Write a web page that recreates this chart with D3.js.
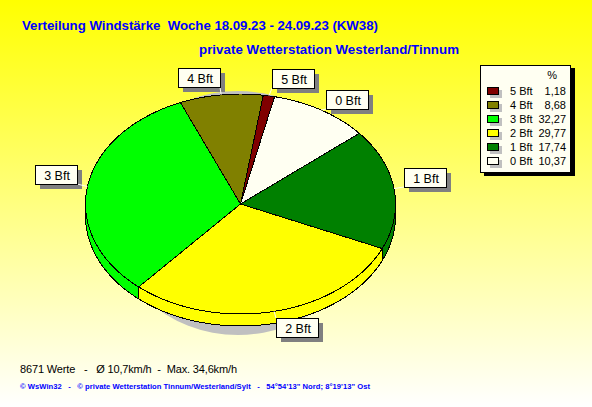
<!DOCTYPE html>
<html><head><meta charset="utf-8">
<script src="https://cdn.jsdelivr.net/npm/d3@7"></script>
<style>
html,body{margin:0;padding:0;background:#fff}
svg{display:block}
text{font-family:"Liberation Sans",Arial,sans-serif;white-space:pre}
</style></head><body>
<svg id="c" width="592" height="407"></svg>
<script>
// data, clockwise around the pie
const categories = ["0 Bft","1 Bft","2 Bft","3 Bft","4 Bft","5 Bft"];
const shares = [10.37,17.74,29.77,32.27,8.68,1.18];
const shareLabels = ["10,37","17,74","29,77","32,27","8,68","1,18"];
const colors = ["#fffff2","#008000","#ffff00","#00ff00","#808000","#800000"];
const legendOrder = [5,4,3,2,1,0];
const titleLines = ["Verteilung Windstärke  Woche 18.09.23 - 24.09.23 (KW38)","private Wetterstation Westerland/Tinnum"];
const footerStats = "8671 Werte   -   Ø 10,7km/h  -  Max. 34,6km/h";
const footerCredit = "© WsWin32   -   © private Wetterstation Tinnum/Westerland/Sylt   -   54°54'13\" Nord; 8°19'13\" Ost";
// label box offsets from the slice rim, by category
const labelOffsets = [[26,-10.5],[31.5,-11.5],[23,16.5],[-31.5,-12],[-22,-17.5],[24.5,-17.5]];

const svg = d3.select("#c");
const defs = svg.append("defs");
const g = defs.append("linearGradient").attr("id","bg").attr("x1",0).attr("x2",0).attr("y1",0).attr("y2",1);
g.append("stop").attr("offset",0).attr("stop-color","#ffff00");
g.append("stop").attr("offset",1).attr("stop-color","#ffffff");
svg.append("rect").attr("width",592).attr("height",407).attr("fill","url(#bg)");

const tx = (t,x,y,o={})=>{
  const e=svg.append("text").attr("x",x).attr("y",y)
  .attr("font-size",o.size||11).attr("font-weight",o.weight||"normal")
  .attr("fill",o.fill||"#000").attr("text-anchor",o.anchor||"start").text(t);
  if(o.len) e.attr("textLength",o.len).attr("lengthAdjust","spacing");
  return e;
};

tx(titleLines[0],22,30,{size:13.3,weight:"bold",fill:"#0000ff",len:356});
tx(titleLines[1],199,54,{size:13.3,weight:"bold",fill:"#0000ff",len:260});

// pie geometry
const x = d3.scaleLinear().domain([-1,1]).range([85.5,395.5]);
const y = d3.scaleLinear().domain([-1,1]).range([314,94]);
const depth = 12;
const start = 12.7*Math.PI/180;
const arcs = d3.pie().sort(null).startAngle(start).endAngle(start+2*Math.PI)(shares);
const px = a=>x(Math.sin(a)), py = a=>y(Math.cos(a));
const samples = (a0,a1)=>{const n=Math.max(2,Math.ceil((a1-a0)/0.01));return d3.range(n+1).map(i=>a0+(a1-a0)*i/n);};
const line = d3.line();

// drop shadow of the pie
svg.append("ellipse").attr("cx",238).attr("cy",213).attr("rx",130).attr("ry",122).attr("fill","#c0c0c0");

// sides of the visible front half
arcs.forEach((d,i)=>{
  for (const k of [0,1]) {
    const lo = Math.max(d.startAngle, Math.PI/2 + k*2*Math.PI);
    const hi = Math.min(d.endAngle, 3*Math.PI/2 + k*2*Math.PI);
    if (hi<=lo) continue;
    const s = samples(lo,hi);
    const top = s.map(a=>[px(a),py(a)]);
    const bot = s.slice().reverse().map(a=>[px(a),py(a)+depth]);
    svg.append("path").attr("d",line(top.concat(bot))+"Z").attr("fill",colors[i])
      .attr("stroke","#000").attr("shape-rendering","crispEdges");
  }
});
// top faces
arcs.forEach((d,i)=>{
  const pts = [[x(0),y(0)]].concat(samples(d.startAngle,d.endAngle).map(a=>[px(a),py(a)]));
  svg.append("path").attr("d",line(pts)+"Z").attr("fill",colors[i])
    .attr("stroke","#000").attr("shape-rendering","crispEdges");
});

// slice labels
const bw=42, bh=19;
arcs.forEach((d,i)=>{
  const m=(d.startAngle+d.endAngle)/2, ax=px(m), ay=py(m);
  const cx=ax+labelOffsets[i][0], cy=ay+labelOffsets[i][1];
  const l=Math.round(cx-bw/2), t=Math.round(cy-bh/2);
  const nx=ax<l?l:(ax>l+bw?l+bw:ax), ny=ay<t?t:(ay>t+bh?t+bh:ay);
  svg.append("rect").attr("x",l+5).attr("y",t+5).attr("width",bw).attr("height",bh).attr("fill","#808080");
  svg.append("line").attr("x1",ax).attr("y1",ay).attr("x2",nx).attr("y2",ny).attr("stroke","#fffff2");
  svg.append("rect").attr("x",l+.5).attr("y",t+.5).attr("width",bw).attr("height",bh).attr("fill","#fffff2").attr("stroke","#000");
  tx(categories[i],l+bw/2+1,t+15,{size:12.5,anchor:"middle"});
});

// legend
svg.append("rect").attr("x",484).attr("y",68).attr("width",91).attr("height",108).attr("fill","#000");
svg.append("rect").attr("x",480.5).attr("y",65.5).attr("width",90).attr("height",107).attr("fill","#fffff2").attr("stroke","#000");
tx("%",557,79,{anchor:"end"});
const row = d3.scalePoint().domain(legendOrder).range([91,161]);
legendOrder.forEach(i=>{
  const r=row(i);
  svg.append("rect").attr("x",490).attr("y",r-1).attr("width",12).attr("height",8).attr("fill","#c0c0c0");
  svg.append("rect").attr("x",487.5).attr("y",r-3.5).attr("width",11).attr("height",7).attr("fill",colors[i]).attr("stroke","#000");
  tx(categories[i],510,r+4);
  tx(shareLabels[i],566,r+4,{anchor:"end"});
});

// footer
tx(footerStats,20,373,{size:11,len:217});
tx(footerCredit,20,389,{size:7.6,weight:"bold",fill:"#0000ff",len:350});
</script></body></html>
